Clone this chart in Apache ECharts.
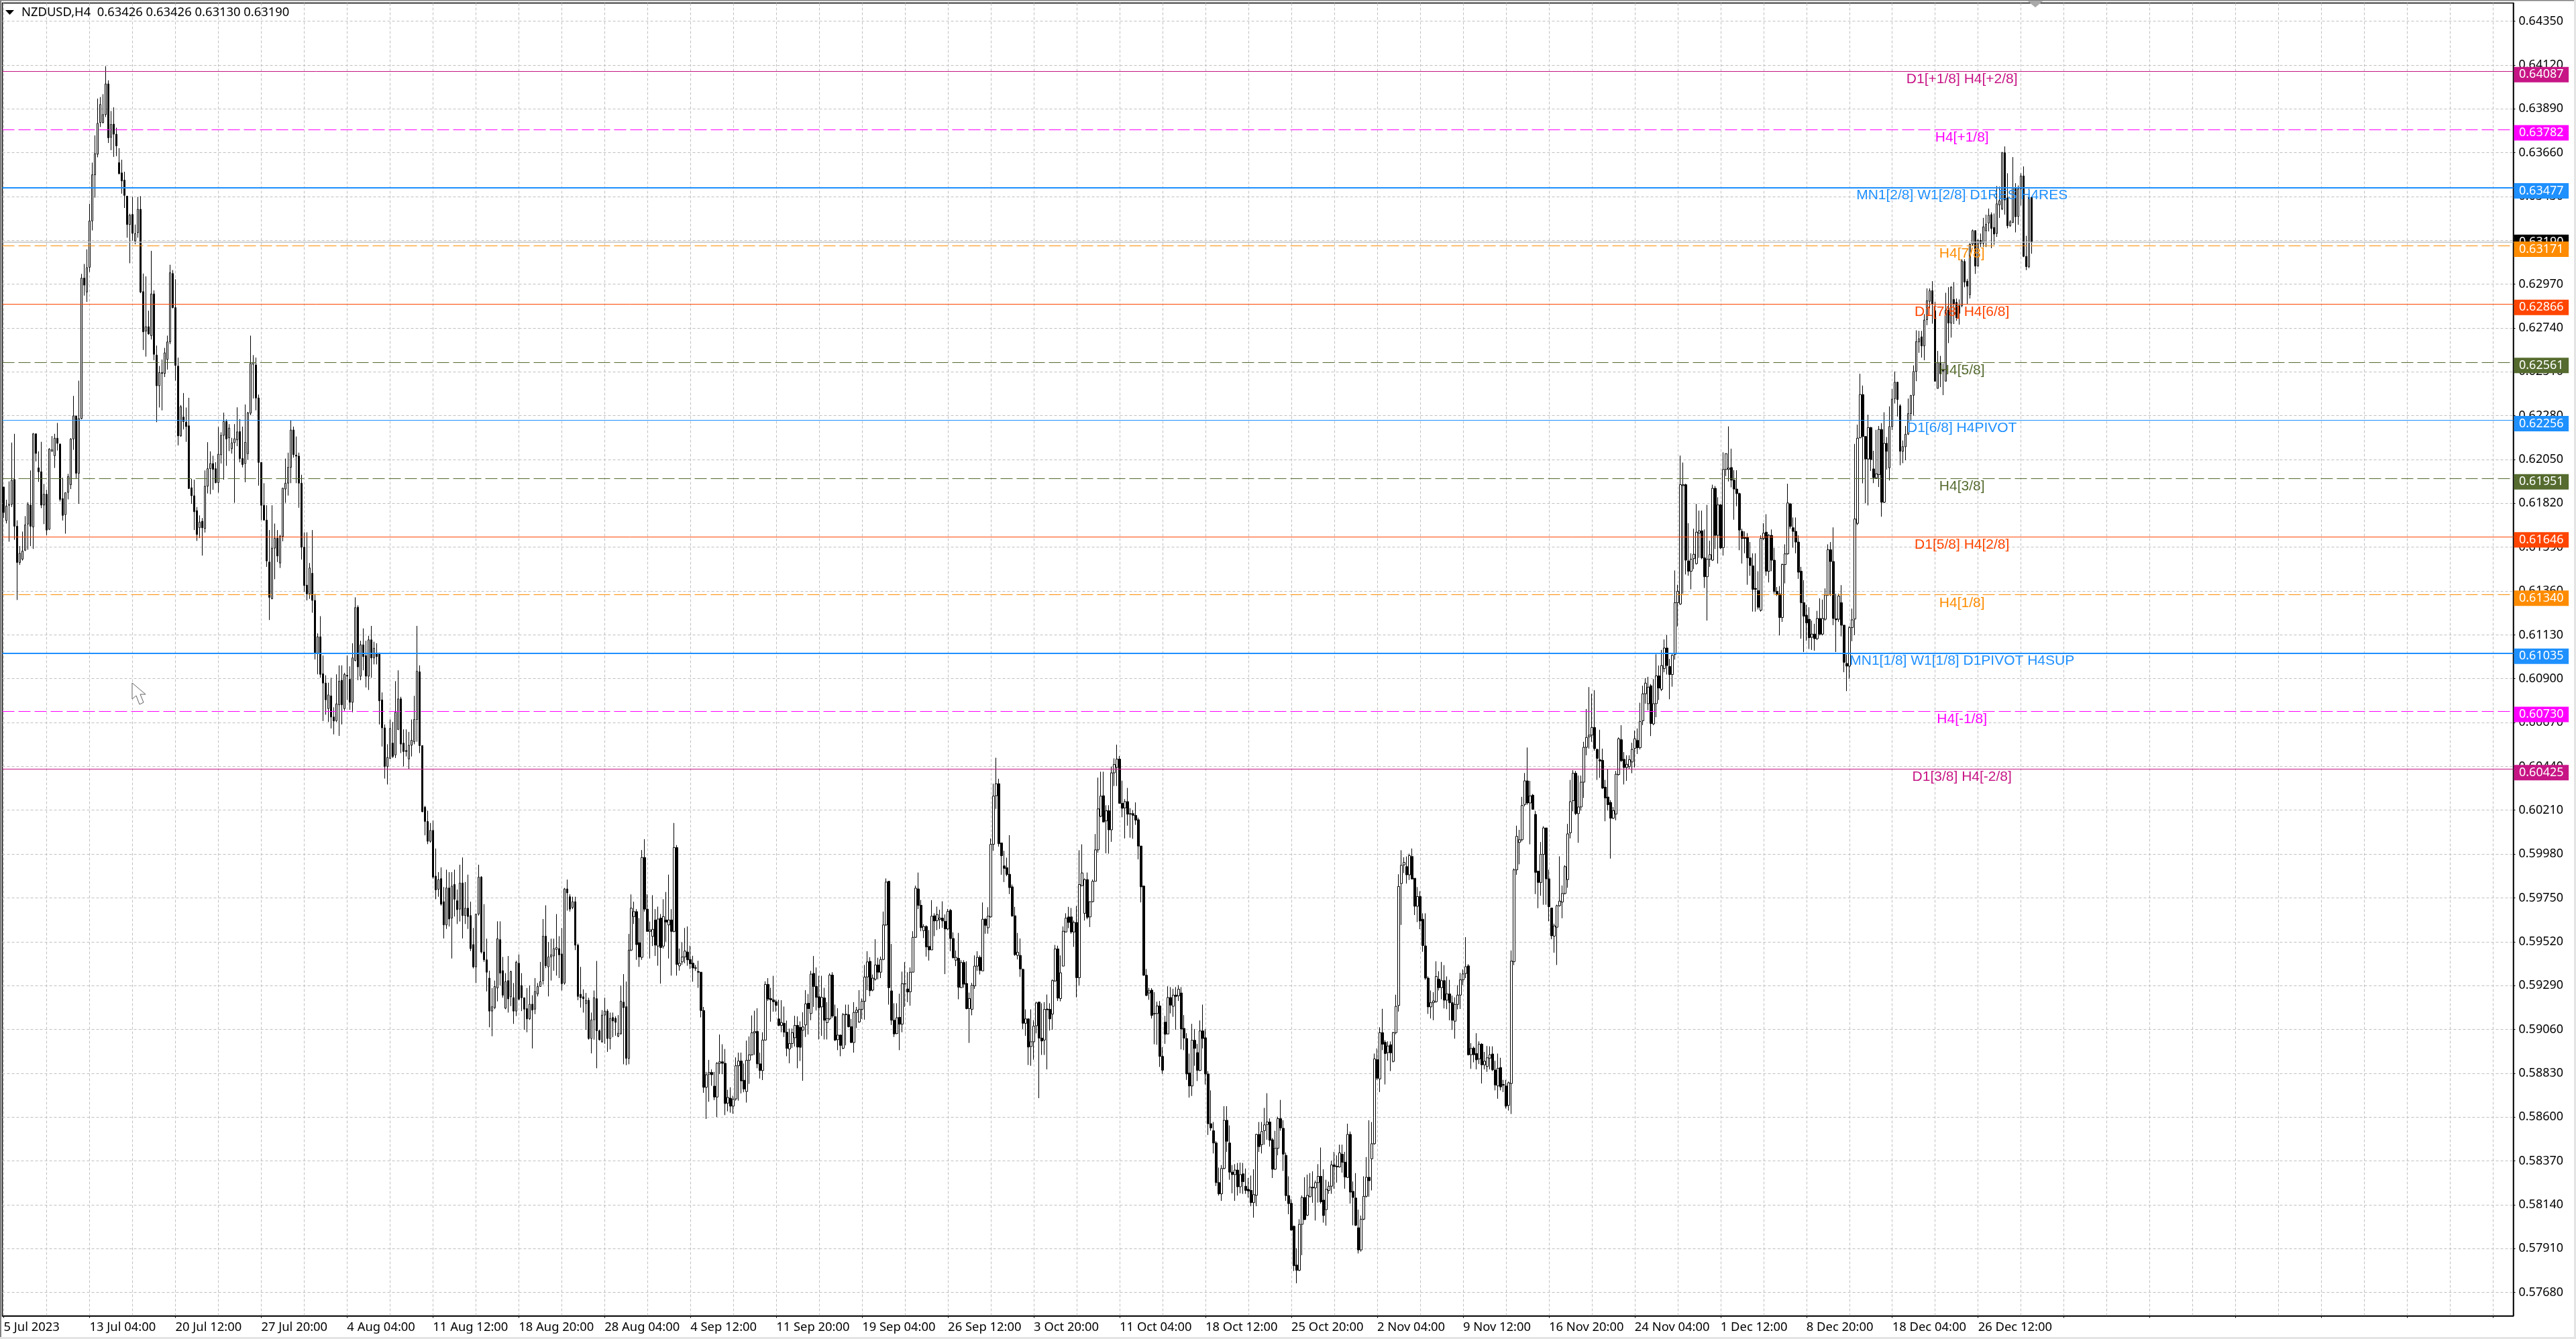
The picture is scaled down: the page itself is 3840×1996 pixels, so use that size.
<!DOCTYPE html>
<html><head><meta charset="utf-8">
<style>html,body{margin:0;padding:0;background:#fff}#c{width:3840px;height:1996px}</style>
<script src="https://cdn.jsdelivr.net/npm/echarts@6/dist/echarts.min.js"></script>
</head><body><div id="c"></div>
<script>
// Candles in 1e-5 price units, each row: open, close, low, high
const barsJul=[[61906,61772,61743,61906],[61730,61806,61715,61839],[61810,61814,61619,61935],[61815,61941,61801,62139],[61945,61700,61629,62185],[61700,61510,61313,61731],[61510,61558,61497,61596],[61527,61570,61520,61672],[61574,61707,61570,61753],[61711,61815,61577,61826],[61811,61700,61596,61993],[61696,62185,61581,62189],[62185,62082,62040,62185],[62006,61986,61933,62093],[61986,61811,61795,62143],[61811,61868,61711,61922],[61868,61680,61653,61891],[61684,62105,61680,62109],[62093,62101,62093,62173],[62070,62162,62006,62185],[62162,62135,62097,62242],[62131,61841,61830,62135],[61845,61757,61730,61954],[61761,61876,61661,61876],[61878,61960,61841,61975],[61918,62158,61895,62162],[62158,62279,62101,62384],[62279,61978,61952,62279],[61978,62265,61818,62464],[62265,63002,62261,63024],[63002,62965,62910,63076],[62929,63057,62877,63153],[63059,63302,63034,63392],[63302,63544,63252,63608],[63544,63655,63424,63751],[63652,63814,63636,63944],[63818,63913,63795,63952],[63818,63860,63814,63967],[63860,64021,63847,64114],[64021,63738,63711,64040],[63741,63808,63673,63879],[63810,63757,63638,63898],[63757,63696,63642,63791],[63608,63550,63546,63684],[63554,63512,63445,63623],[63516,63436,63370,63560],[63432,63283,63214,63432],[63283,63332,63080,63340],[63336,63237,63198,63428],[63197,63235,63179,63283],[63240,63363,63214,63428],[63363,62929,62923,63432],[62931,62720,62625,63026],[62724,62747,62590,63011],[62747,62709,62705,62831],[62700,62919,62680,63145],[62919,62602,62571,62938],[62598,62437,62246,62648],[62437,62506,62323,62541],[62506,62502,62308,62575],[62502,62610,62483,62636],[62575,62667,62522,62700],[62667,63030,62655,63072],[63026,62847,62843,63044],[62847,62544,62464,62996],[62540,62174,62124,62585],[62174,62327,62170,62336],[62273,62250,62208,62399],[62246,62223,62143,62323],[62227,61898,61895,62374],[61902,61860,61818,61948],[61860,61776,61680,61944],[61782,61657,61623,61801],[61692,61722,61638,61757],[61726,61692,61546,61743],[61688,61910,61667,61993],[61910,62002,61872,62141],[62002,62029,61868,62093],[62029,61998,61891,62070],[62002,61929,61925,62036],[61929,62078,61876,62221],[62075,62177,62029,62193],[62177,62250,61944,62296],[62250,62158,62017,62261]];
const barsAug=[[62164,62215,62094,62236],[62107,62138,62081,62164],[62138,62159,61823,62236],[62153,62195,62120,62324],[62197,62055,62035,62262],[62055,62024,62009,62223],[62029,62140,61931,62339],[62081,62295,62050,62300],[62293,62554,62283,62700],[62550,62559,62370,62598],[62546,62373,62308,62585],[62373,62035,61913,62391],[62035,61810,61732,62035],[61810,61732,61732,61926],[61732,61518,61487,61810],[61512,61327,61208,61680],[61319,61585,61319,61810],[61585,61637,61422,61714],[61637,61544,61512,61680],[61507,61647,61481,61655],[61647,61900,61621,61900],[61895,61926,61823,62055],[61926,62009,61861,62086],[62009,62205,61926,62257],[62205,62076,62060,62223],[62073,62068,61926,62171],[62068,61926,61797,62086],[61926,61590,61525,61970],[61590,61389,61357,61668],[61391,61345,61311,61668],[61345,61481,61319,61507],[61453,61311,61246,61680],[61311,61035,61001,61345],[61035,61120,60923,61138],[61120,60923,60905,61228],[60926,60877,60678,61022],[60877,60789,60711,60918],[60743,60815,60673,60879],[60810,60699,60639,60905],[60699,60678,60608,60750],[60680,60768,60673,60923],[60763,60887,60600,60970],[60892,60763,60660,60970],[60743,60923,60732,60931],[60918,60913,60789,61022],[60897,60776,60737,60965],[60776,61009,60724,61086],[60996,61273,60991,61327],[61275,60962,60892,61285],[60913,61078,60892,61099],[61078,61016,60944,61164],[61021,60913,60854,61099],[60913,61104,60841,61125],[61104,61009,60905,61177],[61009,61060,60975,61094],[61035,61016,60975,61086],[61035,60784,60660,61035],[60789,60642,60544,60828],[60642,60440,60376,60660],[60440,60487,60345,60556],[60482,60639,60479,60686],[60562,60492,60484,60673],[60500,60724,60484,60887],[60634,60794,60630,60944],[60794,60557,60510,60805],[60562,60518,60440,60634],[60523,60518,60492,60634],[60479,60551,60427,60621],[60551,60577,60492,60686],[60569,60686,60556,60810],[60686,60939,60569,61177],[60936,60549,60510,60970],[60549,60202,60200,60549],[60226,60151,60078,60233],[60151,60047,60032,60207],[60047,60104,60040,60143],[60104,59859,59851,60156],[59864,59792,59743,60009],[59795,59846,59756,59885],[59851,59717,59709,59910],[59730,59608,59537,59807],[59608,59802,59587,59898],[59802,59639,59600,59885],[59644,59812,59432,59885],[59820,59743,59652,59898],[59735,59688,59613,59794],[59691,59828,59626,59924],[59828,59657,59537,59962],[59657,59696,59613,59833],[59696,59652,59587,59872],[59657,59484,59471,59730],[59505,59388,59380,59592],[59388,59665,59303,59665],[59665,59859,59657,59924],[59859,59466,59458,59864],[59466,59425,59414,59717],[59425,59360,59259,59536],[59329,59156,59071,59368],[59156,59179,59024,59277],[59174,59285,59166,59316],[59277,59536,59207,59627],[59531,59355,59290,59627],[59368,59239,59226,59440],[59171,59311,59166,59355],[59316,59220,59148,59445],[59231,59363,59182,59368],[59226,59156,59089,59303],[59156,59412,59130,59420],[59407,59218,59213,59453],[59290,59226,59156,59355],[59226,59166,59058,59226],[59169,59115,59045,59277],[59115,59192,59110,59290],[59192,59161,58960,59239],[59166,59259,59140,59329],[59246,59285,59233,59303],[59285,59311,59285,59414],[59316,59549,59295,59639],[59549,59394,59381,59711],[59388,59440,59233,59518],[59440,59451,59316,59536],[59445,59484,59368,59536],[59479,59489,59342,59665],[59484,59451,59329,59549],[59456,59300,59264,59592],[59303,59797,59295,59802],[59797,59776,59683,59846],[59756,59691,59678,59769],[59699,59730,59691,59756],[59730,59502,59476,59756],[59502,59233,59213,59510],[59244,59226,59174,59388],[59231,59221,59148,59270],[59195,59213,59058,59251],[59213,59012,59006,59226],[59012,59110,58934,59148],[59110,59226,59006,59264],[59221,59053,58856,59419],[59053,59006,59001,59058],[58994,59135,58991,59161],[59135,59156,58984,59226],[59156,59012,58942,59166],[59012,59118,58955,59148],[59122,59104,59019,59148],[59118,59097,59027,59128],[59024,59040,59019,59135],[59037,59208,59032,59290],[59203,59174,58877,59350],[59179,58908,58872,59311],[58908,59476,58877,59561],[59476,59696,59471,59768],[59652,59678,59613,59730],[59678,59505,59425,59691],[59515,59440,59388,59644],[59438,59962,59425,60001],[59962,59691,59678,60058],[59691,59574,59574,59769],[59574,59582,59432,59626],[59548,59585,59497,59764],[59634,59502,59445,59691],[59497,59639,59394,59704],[59644,59489,59300,59665],[59497,59652,59484,59743],[59634,59623,59520,59781],[59608,59634,59432,59872],[59634,59574,59342,59691],[59574,60014,59569,60143],[60014,59401,59342,60027],[59393,59407,59368,59484],[59414,59440,59399,59518],[59440,59471,59407,59592],[59466,59425,59394,59600]];
const barsSep=[[59427,59404,59377,59499],[59407,59382,59310,59446],[59383,59381,59367,59398],[59364,59360,59278,59420],[59360,59159,59123,59360],[59159,58756,58727,59178],[58756,58822,58590,58837],[58825,58834,58680,58900],[58834,58822,58764,58850],[58762,58705,58689,58837],[58705,58882,58600,58888],[58882,58890,58825,59033],[58890,58882,58825,58982],[58882,58671,58610,58957],[58673,58703,58630,58743],[58699,58657,58623,58756],[58657,58693,58617,58712],[58695,58869,58686,58913],[58869,58894,58686,58938],[58894,58790,58724,58938],[58793,58747,58730,58881],[58734,58898,58676,59001],[58898,58926,58774,59023],[58926,59042,58923,59133],[59042,59049,58926,59158],[59049,58879,58856,59171],[58879,58844,58802,58938],[58844,59004,58794,59045],[59004,59296,59001,59312],[59296,59219,59209,59329],[59222,59215,59100,59278],[59215,59205,59153,59341],[59205,59186,59153,59215],[59115,59081,59077,59215],[59081,59096,59045,59213],[59092,59045,59020,59180],[59045,58960,58919,59106],[58957,58986,58882,59064],[58986,59043,58963,59064],[59016,59081,58970,59131],[59081,58967,58856,59128],[59071,58966,58894,59102],[59056,59073,58790,59150],[59083,59194,59020,59266],[59197,59169,59033,59246],[59143,59350,59108,59367],[59354,59285,59178,59445],[59285,59228,59159,59385],[59231,59174,59007,59341],[59178,59228,59026,59341],[59225,59108,59007,59278],[59095,59117,59007,59203],[59115,59345,59108,59354],[59345,59130,59121,59360],[59127,59004,58999,59190],[59006,59030,58951,59171],[59030,58976,58919,59033],[58961,59137,58956,59146],[59137,59140,58976,59190],[59137,59074,59070,59190],[59074,58991,58989,59115],[58991,59149,58938,59203],[59149,59161,59067,59178],[59099,59165,59094,59266],[59165,59207,59115,59222],[59207,59335,59111,59398],[59335,59414,59266,59470],[59417,59263,59234,59439],[59266,59329,59260,59348],[59323,59398,59316,59533],[59398,59360,59323,59436],[59360,59427,59329,59442],[59427,59608,59423,59678],[59608,59833,59603,59852],[59837,59279,59190,59837],[59262,59108,59083,59508],[59108,59036,59020,59197],[59038,59121,59035,59197],[59123,59087,58951,59247],[59087,59300,59045,59363],[59298,59300,59178,59413],[59272,59256,59203,59360],[59257,59360,59184,59385],[59360,59543,59360,59575],[59543,59801,59540,59814],[59797,59711,59691,59883],[59711,59594,59575,59739],[59578,59600,59539,59612],[59600,59493,59442,59606],[59495,59477,59421,59581],[59477,59654,59477,59738],[59656,59629,59549,59669],[59630,59663,59581,59704],[59637,59644,59587,59688],[59644,59629,59593,59732],[59627,59587,59350,59663],[59587,59679,59581,59692],[59685,59537,59470,59692],[59537,59436,59432,59569],[59423,59438,59392,59474],[59433,59281,59218,59566],[59279,59411,59279,59423],[59411,59297,59279,59423],[59301,59169,59165,59417],[59169,59222,58989,59253],[59165,59291,59134,59304],[59288,59392,59272,59448],[59392,59438,59367,59470],[59438,59369,59348,59448],[59367,59638,59367,59726],[59638,59606,59562,59644],[59593,59654,59562,59701],[59650,60031,59646,60062],[60031,60284,59997,60349],[60286,60349,60217,60485],[60349,60034,60019,60375],[60038,59971,59871,60038],[59918,59905,59833,59997],[59908,59873,59864,59961],[59874,59804,59770,60079],[59808,59656,59650,59820],[59656,59452,59446,59703],[59448,59465,59427,59566],[59448,59377,59335,59537],[59375,59092,59062,59379],[59092,59115,59026,59165],[59115,58967,58873,59117],[58970,58995,58869,59165],[58995,59077,58901,59108],[59079,59199,59039,59205],[59203,59014,58699,59205],[59014,58999,58926,59197],[59004,59165,58926,59203],[59167,59163,58850,59243],[59165,59115,59054,59197],[59140,59316,59058,59322],[59314,59482,59310,59503],[59482,59224,59209,59499],[59222,59357,59207,59448],[59392,59575,59392,59600],[59571,59644,59568,59669],[59650,59621,59591,59703],[59650,59571,59562,59697],[59571,59621,59493,59631],[59621,59331,59228,59707],[59331,59820,59291,60000],[59814,59881,59810,60031],[59669,59846,59631,59852],[59846,59648,59638,59883],[59650,59730,59597,59732],[59730,59837,59726,59846],[59837,60002,59837,60085],[60002,60217,59987,60381],[60178,60284,60173,60412],[60286,60148,60148,60412],[60154,60207,59984,60236],[60207,60107,59982,60236],[60107,60406,60044,60438],[60406,60450,60337,60482],[60435,60478,60337,60554],[60478,60246,60246,60494],[60246,60220,60173,60365],[60222,60255,60062,60268],[60255,60189,60129,60327],[60192,60189,60066,60221],[60192,60183,60060,60211],[60183,60158,60133,60251],[60160,60022,59952,60171],[60022,59808,59726,60022],[59812,59344,59341,59814],[59344,59238,59234,59377],[59251,59263,59215,59278],[59266,59133,59117,59276]];
const barsOct=[[59143,59141,58982,59255],[59143,59183,58979,59205],[59183,58918,58863,59209],[58918,58846,58826,58966],[59098,59034,58984,59131],[59036,59227,59034,59286],[59227,59187,59144,59282],[59181,59240,59126,59273],[59240,59233,59058,59282],[59236,59271,59209,59292],[59251,59062,58955,59282],[59065,59014,58951,59135],[59012,58826,58795,59040],[58831,58763,58702,58933],[58763,59003,58711,59089],[59003,58960,58869,59062],[58938,58845,58789,58984],[58845,59052,58841,59107],[59052,59012,58960,59190],[59016,58826,58771,59062],[58826,58565,58506,58841],[58565,58543,58528,58740],[58528,58464,58409,58574],[58464,58256,58238,58473],[58256,58197,58188,58335],[58197,58330,58160,58348],[58330,58583,58326,58657],[58583,58473,58417,58657],[58464,58311,58271,58556],[58311,58298,58200,58348],[58298,58322,58160,58353],[58322,58234,58188,58359],[58234,58298,58200,58361],[58302,58261,58197,58359],[58237,58215,58197,58330],[58221,58212,58178,58280],[58215,58151,58132,58293],[58151,58193,58072,58326],[58189,58509,58132,58512],[58509,58445,58417,58574],[58455,58524,58409,58574],[58528,58559,58455,58648],[58561,58574,58481,58725],[58574,58478,58445,58593],[58481,58326,58280,58490],[58326,58436,58322,58528],[58436,58592,58399,58602],[58592,58543,58528,58690],[58541,58405,58317,58583],[58399,58188,58160,58414],[58188,58146,58090,58289],[58147,58007,58004,58169],[58027,57820,57792,58031],[57823,57796,57728,57912],[57796,58037,57792,58064],[58037,58178,57875,58188],[58178,58062,58059,58284],[58085,58189,58081,58298],[58182,58232,58178,58306],[58232,58228,58150,58315],[58228,58256,58057,58267],[58256,58289,58151,58353],[58289,58155,58146,58440],[58164,58083,58046,58326],[58114,58221,58030,58271],[58215,58237,58197,58261],[58237,58349,58197,58371],[58349,58340,58224,58417],[58342,58338,58256,58399],[58338,58412,58335,58455],[58405,58363,58308,58455],[58363,58285,58224,58417],[58283,58509,58280,58565],[58509,58206,58146,58524],[58210,58178,58032,58262],[58175,58032,58028,58306],[58019,57903,57884,58114],[57903,58064,57894,58083],[58064,58184,58059,58289],[58184,58284,58178,58390],[58284,58266,58182,58583],[58381,58460,58215,58574],[58460,58905,58455,58933],[58901,58804,58795,58960],[58800,59043,58731,59071],[59043,58982,58951,59168],[58992,58933,58771,59003],[58938,58973,58896,58997],[58979,58937,58841,58997],[58892,59043,58887,59047],[59043,59181,59034,59242],[59185,59810,59153,59874],[59825,59921,59608,60000],[59923,59936,59880,59963],[59914,59871,59825,59967],[59871,59972,59844,59982],[59967,59849,59847,60009],[59853,59706,59660,59853],[59706,59757,59623,59807],[59757,59629,59586,59785],[59638,59500,59467,59669],[59498,59329,59320,59669],[59329,59178,59141,59338],[59178,59200,59117,59264],[59200,59209,59108,59255],[59205,59338,59200,59417],[59323,59279,59264,59365],[59279,59316,59218,59414],[59316,59213,59170,59397],[59213,59246,59166,59338],[59246,59200,59108,59320],[59200,59108,59057,59237],[59103,59191,59011,59228],[59191,59240,59165,59292],[59240,59320,59167,59356],[59320,59351,59292,59375],[59353,59389,59329,59544],[59393,58927,58923,59402],[58927,58960,58853,58988],[58962,58927,58887,58970],[58933,58900,58850,59040],[58905,58982,58878,58997],[58982,58874,58776,58988],[58874,58893,58850,58942],[58865,58911,58837,58973],[58909,58927,58850,58971],[58931,58848,58841,58971],[58847,58768,58740,58895],[58763,58856,58696,58933],[58860,58758,58740,58911],[58771,58767,58731,58795],[58763,58657,58645,58795],[58661,58780,58634,58786],[58776,59418,58616,59474],[59415,59897,59397,59904],[59897,60073,59871,60129],[60041,60055,59926,60107],[60055,60235,60046,60280],[60240,60364,60230,60405],[60364,60248,60239,60539],[60248,60285,60031,60364],[60289,60215,60212,60295],[60188,59884,59770,60206],[59890,59831,59696,59893],[59831,59978,59761,60043]];
const barsNov=[[59978,60117,59714,60126],[60117,59850,59714,60117],[59850,59704,59627,59898],[59697,59551,59533,59697],[59549,59603,59462,59615],[59596,59709,59398,59714],[59709,59733,59704,59968],[59728,59773,59643,59815],[59773,59914,59768,59921],[59846,60086,59803,60138],[60091,60255,60062,60369],[60260,60404,60204,60420],[60404,60192,60185,60416],[60192,60227,60039,60392],[60227,60357,60208,60392],[60357,60540,60274,60569],[60540,60592,60498,60741],[60595,60604,60533,60856],[60604,60644,60569,60821],[60644,60533,60522,60840],[60529,60482,60369,60533],[60475,60468,60380,60632],[60472,60326,60321,60533],[60331,60274,60152,60369],[60279,60239,60208,60427],[60251,60168,59956,60263],[60168,60208,60164,60227],[60190,60399,60157,60416],[60397,60585,60392,60592],[60580,60470,60463,60656],[60477,60434,60345,60515],[60434,60451,60364,60498],[60439,60475,60427,60498],[60463,60529,60404,60564],[60534,60585,60434,60628],[60576,60538,60505,60639],[60538,60675,60529,60774],[60679,60821,60656,60863],[60821,60877,60769,60903],[60769,60856,60734,60910],[60863,60665,60599,60872],[60663,60769,60656,60898],[60769,60915,60698,61028],[60915,60851,60788,60969],[60844,60969,60835,61051],[60953,61061,60934,61106],[61061,60969,60922,61129],[60964,60922,60792,61004],[60922,61023,60858,61028],[61028,61299,61000,61468],[61299,61358,61174,61393],[61292,61918,61287,62071],[61913,61918,61346,62034],[61918,61522,61447,61923],[61518,61464,61440,61716],[61464,61527,61369,61558],[61530,61553,61475,61687],[61504,61669,61499,61817],[61664,61676,61534,61782],[61676,61534,61527,61782],[61534,61435,61376,61683],[61435,61527,61205,61812],[61527,61551,61487,61624],[61522,61899,61518,61918],[61899,61652,61581,61911],[61652,61812,61504,61852],[61812,61586,61581,61817],[61588,61998,61546,62088],[61998,62081,61963,62081],[61998,62005,61935,62224],[62008,61942,61904,62107],[61942,61895,61734,61994],[61895,61871,61805,61994],[61871,61680,61574,61876],[61673,61636,61504,61687],[61640,61636,61558,61673],[61640,61534,61393,61664],[61534,61494,61440,61617],[61492,61369,61252,61558],[61374,61369,61252,61558],[61362,61275,61263,61464],[61259,61636,61252,61652],[61636,61664,61628,61716],[61669,61464,61440,61763],[61464,61652,61405,61659],[61652,61522,61464,61683],[61522,61358,61346,61586],[61358,61344,61334,61381],[61344,61221,61127,61386],[61221,61499,61198,61504],[61499,61555,61400,61605],[61555,61822,61551,61923],[61817,61699,61687,61822],[61692,61673,61588,61746],[61673,61617,61558,61746],[61617,61459,61424,61652],[61464,61299,61110,61487],[61299,61228,61040,61417],[61233,61193,61099,61287],[61212,61115,61056,61275],[61117,61134,61051,61205],[61134,61110,61047,61188],[61110,61216,61103,61256],[61216,61134,61127,61322],[61134,61216,61127,61315],[61212,61339,61205,61374],[61339,61577,61334,61605],[61577,61515,61334,61617],[61515,61216,61181,61694],[61214,61209,61040,61346],[61212,61334,61198,61346],[61299,61181,61122,61391],[61181,60986,60934,61181]];
const barsDec=[[60980,60966,60835,61027],[60966,61168,60901,61176],[61168,61209,61097,61268],[61213,61738,61129,62132],[61715,62162,61706,62233],[62164,62391,62162,62500],[62391,62171,61925,62438],[62171,62053,61820,62173],[62053,62218,61809,62285],[62218,62050,61990,62221],[62001,61955,61926,62096],[61953,61975,61950,62206],[61971,62208,61906,62226],[62208,61826,61750,62241],[61826,62135,61821,62298],[62135,62093,61997,62168],[62006,62223,61940,62329],[62223,62367,62205,62420],[62369,62456,62344,62512],[62456,62365,62276,62458],[62332,62093,62020,62340],[62093,62118,62031,62150],[62117,62183,62046,62226],[62183,62291,62179,62370],[62291,62387,62252,62387],[62387,62512,62280,62544],[62512,62669,62461,62728],[62667,62684,62610,62725],[62694,62646,62585,62725],[62646,62782,62571,62813],[62784,62884,62755,62948],[62880,62936,62843,62948],[62936,62866,62763,62986],[62831,62461,62458,62878],[62423,62558,62423,62620],[62555,62500,62430,62594],[62520,62514,62388,62555],[62461,62833,62461,62925],[62833,62766,62661,62954],[62766,62954,62690,62960],[62890,62866,62761,62981],[62875,62793,62778,62895],[62857,62817,62758,62890],[62857,63092,62849,63101],[63089,62981,62954,63101],[62986,62960,62866,62998],[62915,63180,62895,63185],[63180,63251,63171,63257],[63251,63065,63024,63253],[63065,63200,63063,63206],[63200,63185,63165,63236],[63185,63271,63165,63318],[63250,63285,63165,63335],[63291,63332,63247,63367],[63335,63263,63159,63347],[63268,63233,63177,63341],[63236,63392,63218,63485],[63386,63408,63318,63482],[63365,63660,63359,63664],[63660,63412,63335,63693],[63423,63277,63263,63552],[63277,63297,63271,63306],[63294,63476,63291,63637],[63476,63324,63242,63500],[63326,63470,63282,63488],[63470,63538,63382,63552],[63538,63116,63112,63588],[63116,63062,63044,63224],[63062,63427,63054,63470],[63426,63190,63130,63426]];

const levelValues=[0.64087,0.63782,0.63477,0.63171,0.62866,0.62561,0.62256,0.61951,0.61646,0.6134,0.61035,0.6073,0.60425];
const levelNames=['D1[+1/8] H4[+2/8]','H4[+1/8]','MN1[2/8] W1[2/8] D1RES H4RES','H4[7/8]','D1[7/8] H4[6/8]','H4[5/8]','D1[6/8] H4PIVOT','H4[3/8]','D1[5/8] H4[2/8]','H4[1/8]','MN1[1/8] W1[1/8] D1PIVOT H4SUP','H4[-1/8]','D1[3/8] H4[-2/8]'];
const levelColors=['#C71585','#FF00FF','#1E90FF','#FF8C00','#FF4500','#556B2F','#1E90FF','#556B2F','#FF4500','#FF8C00','#1E90FF','#FF00FF','#C71585'];
const levelDashed=[0,1,0,1,0,1,0,1,0,1,0,1,0];
const levelWidths=[1,1,2,1,1,1,1,1,1,1,2,1,1];
const bidPrice=0.6319;
const priceTicks=[0.6435,0.6412,0.6389,0.6366,0.6343,0.632,0.6297,0.6274,0.6251,0.6228,0.6205,0.6182,0.6159,0.6136,0.6113,0.609,0.6067,0.6044,0.6021,0.5998,0.5975,0.5952,0.5929,0.5906,0.5883,0.586,0.5837,0.5814,0.5791,0.5768];
const dateTicks=['5 Jul 2023','13 Jul 04:00','20 Jul 12:00','27 Jul 20:00','4 Aug 04:00','11 Aug 12:00','18 Aug 20:00','28 Aug 04:00','4 Sep 12:00','11 Sep 20:00','19 Sep 04:00','26 Sep 12:00','3 Oct 20:00','11 Oct 04:00','18 Oct 12:00','25 Oct 20:00','2 Nov 04:00','9 Nov 12:00','16 Nov 20:00','24 Nov 04:00','1 Dec 12:00','8 Dec 20:00','18 Dec 04:00','26 Dec 12:00'];
const slotCount=936, labelSlot=730, tagSlot=935, dateEvery=32, gridEvery=16;
const headerText='NZDUSD,H4  0.63426 0.63426 0.63130 0.63190';

const FONT='Noto Sans';
const bars=[...barsJul,...barsAug,...barsSep,...barsOct,...barsNov,...barsDec].map(r=>r.map(v=>v/1e5));
const cats=Array.from({length:slotCount},(_,i)=>String(i));
const tagSeries=(val,name,col,dy,z)=>({type:'scatter',silent:true,symbolSize:0,z,itemStyle:{opacity:1},data:[[String(tagSlot),val]],
  label:{show:true,opacity:1,position:'right',distance:0,offset:[3,dy],formatter:name,color:'#fff',backgroundColor:col,fontFamily:FONT,fontSize:18,lineHeight:18,padding:[2.5,7.5]}});
const chart=echarts.init(document.getElementById('c'),null,{width:3840,height:1996,renderer:'canvas'});
chart.setOption({
  animation:false,backgroundColor:'#fff',
  grid:{left:3.5,right:93.5,top:4.5,bottom:34.5,show:true,borderColor:'#000',borderWidth:1.5,backgroundColor:'#fff'},
  xAxis:{type:'category',data:cats,boundaryGap:true,
    axisLine:{lineStyle:{color:'#000',width:1.5}},
    axisTick:{show:true,interval:i=>i%dateEvery===0,alignWithLabel:true,length:3,lineStyle:{color:'#000'}},
    axisLabel:{interval:i=>i%dateEvery===0,formatter:(v,i)=>dateTicks[i/dateEvery]||'',align:'left',margin:8,color:'#000',fontFamily:FONT,fontSize:18.4,hideOverlap:false,showMinLabel:true},
    splitLine:{show:true,alignWithLabel:true,interval:i=>i%gridEvery===0,lineStyle:{color:'#c0c0c0',type:[4,3],width:1}}},
  yAxis:{type:'value',position:'right',scale:true,min:0.575568,max:0.644454,
    axisLine:{show:true,lineStyle:{color:'#000',width:1.5}},
    axisTick:{show:true,length:3,customValues:priceTicks,lineStyle:{color:'#000'}},
    axisLabel:{customValues:priceTicks,formatter:v=>Number(v).toFixed(5),margin:8,color:'#000',fontFamily:FONT,fontSize:18,showMinLabel:true,showMaxLabel:true},
    splitLine:{show:false}},
  series:[
    {type:'line',silent:true,z:1,data:[],symbol:'none',markLine:{silent:true,symbol:'none',precision:5,animation:false,z:1,label:{show:false},
      lineStyle:{color:'#c0c0c0',type:[4,3],width:1},data:priceTicks.map(v=>({yAxis:v}))}},
    {type:'candlestick',silent:true,z:3,large:false,progressive:0,barWidth:3,data:bars,
      itemStyle:{color:'#fff',color0:'#000',borderColor:'#000',borderColor0:'#000',borderWidth:1},
      markLine:{silent:true,symbol:'none',precision:5,animation:false,z:4,label:{show:false},
        data:[{yAxis:bidPrice,lineStyle:{color:'#c0c0c0',width:1.5,type:'solid'}},
          ...levelValues.map((v,i)=>({yAxis:v,lineStyle:{color:levelColors[i],width:levelWidths[i],type:levelDashed[i]?[18,6]:'solid'}}))]}},
    {type:'scatter',silent:true,symbolSize:0,z:6,itemStyle:{opacity:1},
      data:levelValues.map((v,i)=>({value:[String(labelSlot),v],label:{formatter:levelNames[i],color:levelColors[i]}})),
      label:{show:true,opacity:1,position:'inside',offset:[0,12],fontFamily:'Liberation Sans',fontSize:21}},
    tagSeries(bidPrice,Number(bidPrice).toFixed(5),'#000',0,7),
    ...levelValues.map((v,i)=>tagSeries(v,v.toFixed(5),levelColors[i],5,8))
  ],
  graphic:[
    {type:'rect',shape:{x:0,y:0,width:3840,height:1.5},style:{fill:'#808080'},silent:true},
    {type:'rect',shape:{x:0,y:0,width:2,height:1996},style:{fill:'#808080'},silent:true},
    {type:'rect',shape:{x:3837,y:0,width:3,height:1996},style:{fill:'#e4e4e4'},silent:true},
    {type:'rect',shape:{x:0,y:1993,width:3840,height:3},style:{fill:'#e4e4e4'},silent:true},
    {type:'polygon',shape:{points:[[8,15],[21,15],[14.5,22]]},style:{fill:'#000'},silent:true,z:20},
    {type:'text',x:32,y:19,z:20,silent:true,style:{text:headerText,fill:'#000',font:'18.4px "'+FONT+'"',textVerticalAlign:'middle'}},
    {type:'polygon',shape:{points:[[3022,1],[3046,1],[3034,11]]},style:{fill:'#a8a8a8'},silent:true,z:20},
    {type:'polygon',shape:{points:[[197,1018],[197,1042],[203,1037],[208,1050],[214,1047],[209,1035],[217,1035]]},style:{fill:'#fff',stroke:'#606060',lineWidth:1},silent:true,z:20}
  ]
});
</script></body></html>
